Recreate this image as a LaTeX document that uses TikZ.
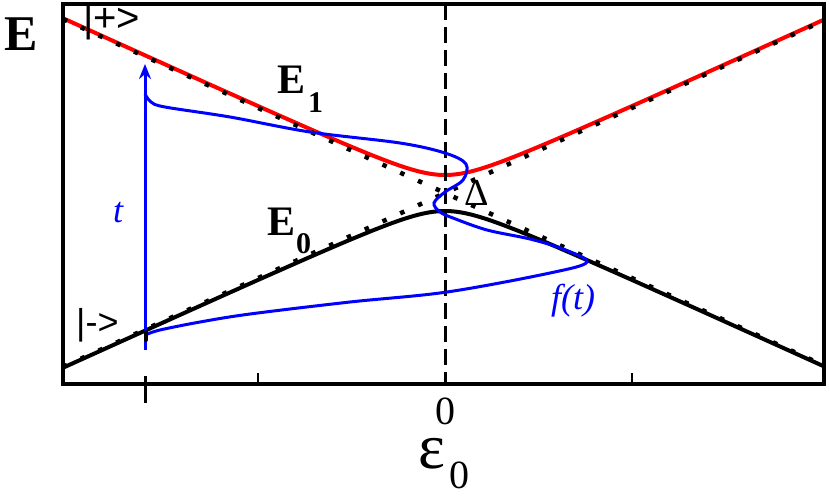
\documentclass[tikz,border=0pt]{standalone}
\usepackage{fontspec}
\setmainfont{Liberation Serif}
\newfontfamily\sansf{Liberation Sans}
\usetikzlibrary{arrows.meta}
\begin{document}
\begin{tikzpicture}[x=1pt,y=-1pt,
  lab/.style={inner sep=0pt, anchor=base west},
  bigbold/.style={font=\bfseries\fontsize{42}{42}\selectfont},
  subbold/.style={font=\bfseries\fontsize{30}{30}\selectfont},
  bluelab/.style={text=blue, font=\itshape\fontsize{36}{36}\selectfont},
  ket/.style={font=\sansf\fontsize{40}{40}\selectfont},
  adiab/.style={line width=4pt},
  diab/.style={line width=4.5pt, dash pattern=on 4.5pt off 15pt},
  bluecurve/.style={blue, line width=3pt}]
\useasboundingbox (0,0) rectangle (830,496);
\def\Xc{445}\def\Yc{193}\def\slp{0.455}\def\gapd{18}
% adiabatic curves
\draw[red, adiab] plot[domain=63:824, samples=200] (\x, {\Yc - 10*veclen(\slp*(\x-\Xc)/10, \gapd/10)});
\draw[black, adiab] plot[domain=63:824, samples=200] (\x, {\Yc + 10*veclen(\slp*(\x-\Xc)/10, \gapd/10)});
% diabatic (dotted) lines
\coordinate (dl1) at (63, {\Yc - \slp*382});
\coordinate (dr1) at (824, {\Yc + \slp*379});
\coordinate (dl2) at (63, {\Yc + \slp*382});
\coordinate (dr2) at (824, {\Yc - \slp*379});
\draw[diab] (dl1) -- (dr1);
\draw[diab] (dl2) -- (dr2);
% dashed vertical
\coordinate (vt) at (445,4);
\coordinate (vb) at (445,384);
\draw[line width=3pt, dash pattern=on 16pt off 7pt] (vt) -- (vb);
% frame
\draw[line width=4pt] (63,4) rectangle (824,384);
% ticks
\coordinate (k1) at (258,384); \coordinate (k1e) at (258,373);
\coordinate (k2) at (632,384); \coordinate (k2e) at (632,373);
\coordinate (kb) at (145,376); \coordinate (kbe) at (145,403);
\draw[line width=2pt] (k1) -- (k1e);
\draw[line width=2pt] (k2) -- (k2e);
\draw[line width=3pt] (kb) -- (kbe);
% blue time arrow
\coordinate (tb) at (145,350);
\coordinate (tt) at (145,64);
\draw[bluecurve, -{Stealth[length=15pt,width=12pt]}] (tb) -- (tt);
% blue trajectory f(t)
\draw[bluecurve] plot[smooth, tension=0.55] coordinates {(145,94) (151,102) (165,107) (230,117) (310,132) (400,143) (445,153) (466,164) (463,180) (445,192) (434,203) (440,212) (453,218) (487,230) (530,239) (563,249) (587,262) (550,273) (447,292) (350,302) (250,314) (200,322) (160,330) (145,335)};
\draw[line width=4pt, line cap=round] (146,332) -- (146,340);
% labels
\node[lab, font=\bfseries\fontsize{50}{50}\selectfont] (Eax) at (4,50) {E};
\node[lab, bigbold] (E1) at (277,93) {E};
\node[lab, subbold] (E1s) at (308,112) {1};
\node[lab, bigbold] (E0) at (267,235) {E};
\node[lab, subbold] (E0s) at (296,253) {0};
\node[lab, font=\fontsize{38}{38}\selectfont] (Dl) at (464,205) {Δ};
\node[lab, bluelab] (tl) at (113,222) {t};
\node[lab, bluelab] (fl) at (551,309) {f(t)};
\node[lab, ket] (kp) at (83,31) {|+>};
\node[lab, font=\sansf\fontsize{36}{36}\selectfont] (km) at (76,334) {|->};
\node[anchor=base, inner sep=0pt, font=\fontsize{40}{40}\selectfont] (zl) at (445,424) {0};
\node[lab, text height=0.5em, text depth=0pt, font=\fontsize{64}{64}\selectfont] (eps) at (418,468) {ε};
\node[lab, font=\fontsize{40}{40}\selectfont] (epss) at (449,488) {0};
\end{tikzpicture}
\end{document}
